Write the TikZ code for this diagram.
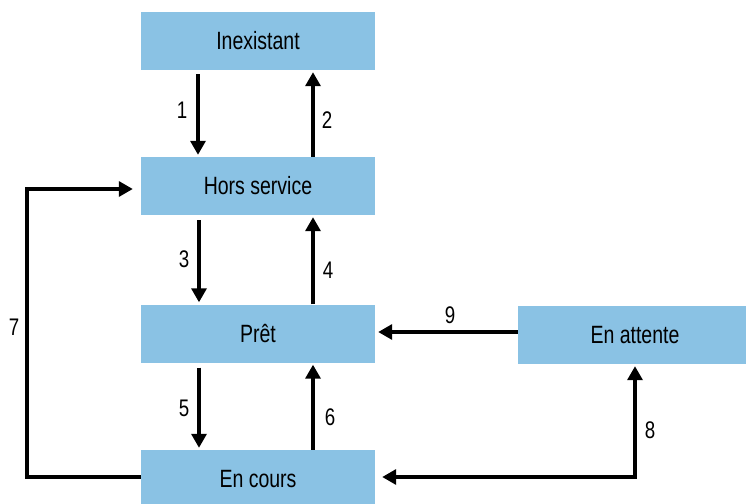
\documentclass[tikz,border=0pt]{standalone}
\usepackage{fontspec}
\setmainfont[FakeStretch=0.78]{Liberation Sans}
\usetikzlibrary{arrows.meta}
\definecolor{boxblue}{RGB}{138,194,228}
\tikzset{
  x=1pt, y=-1pt,
  statebox/.style={fill=boxblue, draw=none, minimum width=234pt, minimum height=58pt, inner sep=0pt, font=\fontsize{25}{28}\selectfont},
  conn/.style={line width=3.3pt, -{Triangle[length=14pt,width=15pt]}},
  dconn/.style={line width=3.3pt, {Triangle[length=14pt,width=15pt]}-{Triangle[length=14pt,width=15pt]}},
  lbl/.style={font=\fontsize{24}{26}\selectfont, inner sep=0pt}
}
\begin{document}
\begin{tikzpicture}
\useasboundingbox (0,0) rectangle (746,503);
\node[statebox] (inex) at (258,41) {Inexistant};
\node[statebox] (hors) at (258,186) {Hors service};
\node[statebox] (pret) at (258,333.5) {Prêt};
\node[statebox] (cours) at (258,479) {En cours};
\node[statebox] (att) at (635,335) {En attente};
% 1 and 2
\draw[conn, shorten <=4pt, shorten >=2pt] (inex.south -| 198,0) -- (hors.north -| 198,0);
\draw[conn, shorten >=2pt] (hors.north -| 313,0) -- (inex.south -| 313,0);
% 3 and 4
\draw[conn, shorten <=5pt, shorten >=2pt] (hors.south -| 199,0) -- (pret.north -| 199,0);
\draw[conn, shorten >=2pt] (pret.north -| 313,0) -- (hors.south -| 313,0);
% 5 and 6
\draw[conn, shorten <=5pt, shorten >=2pt] (pret.south -| 199,0) -- (cours.north -| 199,0);
\draw[conn, shorten >=2pt] (cours.north -| 313,0) -- (pret.south -| 313,0);
% 7
\coordinate (c7a) at (27,477);
\coordinate (c7b) at (27,189);
\draw[conn, shorten >=8pt] (cours.west |- c7a) -- (c7a) -- (c7b) -- (hors.west |- c7b);
% 9
\draw[conn, shorten >=3pt] (att.west |- 0,332) -- (pret.east |- 0,332);
% 8
\coordinate (c8) at (635,477);
\draw[dconn, shorten <=7pt, shorten >=2pt] (cours.east |- c8) -- (c8) -- (att.south);
% labels
\node[lbl] (l1) at (182,110) {1};
\node[lbl] (l2) at (327,120) {2};
\node[lbl] (l3) at (184,259) {3};
\node[lbl] (l4) at (328,270) {4};
\node[lbl] (l5) at (184,408) {5};
\node[lbl] (l6) at (330,417) {6};
\node[lbl] (l7) at (14,327) {7};
\node[lbl] (l9) at (450,315) {9};
\node[lbl] (l8) at (650,430) {8};
\end{tikzpicture}
\end{document}
